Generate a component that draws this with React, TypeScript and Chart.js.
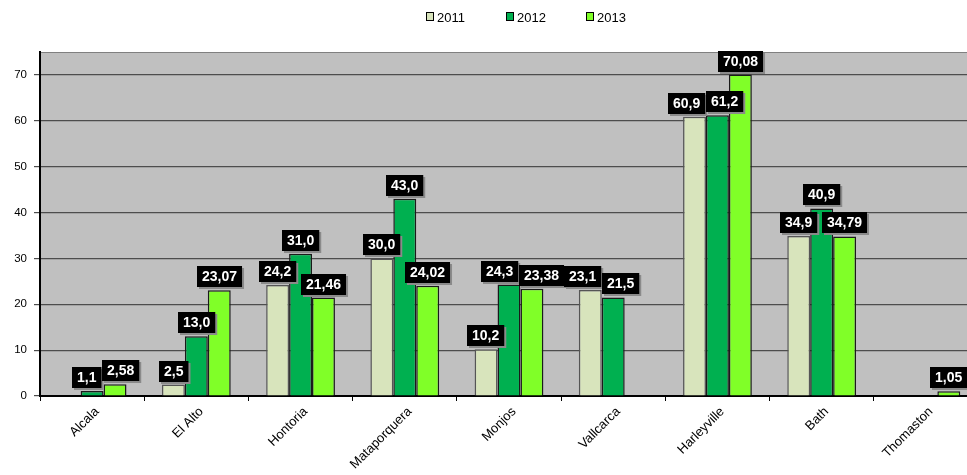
import React, { useEffect, useRef } from "react";
import { Chart, registerables } from "chart.js";

Chart.register(...registerables);

const categories = ["Alcala", "El Alto", "Hontoria", "Mataporquera", "Monjos", "Vallcarca", "Harleyville", "Bath", "Thomaston"];
const seriesNames = ["2011", "2012", "2013"];
const values2011 = [null, 2.5, 24.2, 30.0, 10.2, 23.1, 60.9, 34.9, null];
const values2012 = [1.1, 13.0, 31.0, 43.0, 24.3, 21.5, 61.2, 40.9, null];
const values2013 = [2.58, 23.07, 21.46, 24.02, 23.38, null, 70.08, 34.79, 1.05];
const decimals = [1, 1, 2];
const colors = ["#d8e4bc", "#00b050", "#80ff28"];
const borders = ["#555555", "#1a1a1a", "#1a1a1a"];
const yTicks = [0, 10, 20, 30, 40, 50, 60, 70];

const fmt = (v: number, d: number) => v.toFixed(d).replace(".", ",");

const plotBg = {
  id: "plotBg",
  beforeDraw(chart: any) {
    const { ctx, chartArea: a } = chart;
    ctx.save();
    ctx.fillStyle = "#c0c0c0";
    ctx.fillRect(a.left, a.top, a.right - a.left, a.bottom - a.top);
    ctx.strokeStyle = "#808080";
    ctx.lineWidth = 1;
    ctx.beginPath();
    ctx.moveTo(a.left, a.top + 0.5);
    ctx.lineTo(a.right, a.top + 0.5);
    ctx.stroke();
    ctx.restore();
  },
};

const dataLabels = {
  id: "dataLabels",
  afterDatasetsDraw(chart: any) {
    const { ctx } = chart;
    ctx.save();
    ctx.font = "bold 14px 'Liberation Sans', Arial, sans-serif";
    ctx.textAlign = "center";
    ctx.textBaseline = "middle";
    const h = 21;
    const n = chart.data.labels.length;
    for (let i = 0; i < n; i++) {
      const boxes: any[] = [];
      chart.data.datasets.forEach((ds: any, di: number) => {
        const v = ds.data[i];
        if (v === null || v === undefined) return;
        const el = chart.getDatasetMeta(di).data[i];
        const txt = fmt(v, decimals[di]);
        const w = ctx.measureText(txt).width + 10;
        boxes.push({ txt, w, cx: el.x, y: el.y - 3 - h });
      });
      for (let pass = 0; pass < 4; pass++) {
        for (let k = 0; k < boxes.length - 1; k++) {
          const a = boxes[k];
          const b = boxes[k + 1];
          const vOverlap = Math.abs(a.y - b.y) < h;
          const ov = a.cx + a.w / 2 - (b.cx - b.w / 2) + 1;
          if (vOverlap && ov > 0) {
            a.cx -= ov / 2;
            b.cx += ov / 2;
          }
        }
      }
      boxes.forEach((b) => {
        const x = Math.round(b.cx - b.w / 2);
        const y = Math.round(b.y);
        ctx.fillStyle = "#8a8a8a";
        ctx.fillRect(x + 2, y + 2, b.w, h);
        ctx.fillStyle = "#000000";
        ctx.fillRect(x, y, b.w, h);
        ctx.fillStyle = "#ffffff";
        ctx.fillText(b.txt, x + b.w / 2, y + h / 2 + 1);
      });
    }
    ctx.restore();
  },
};

const legendPlugin = {
  id: "customLegend",
  afterDraw(chart: any) {
    const { ctx } = chart;
    ctx.save();
    ctx.font = "13px 'Liberation Sans', Arial, sans-serif";
    ctx.textBaseline = "middle";
    ctx.textAlign = "left";
    const startX = 426;
    const step = 80;
    const cy = 17;
    seriesNames.forEach((name, i) => {
      const x = startX + i * step;
      ctx.fillStyle = colors[i];
      ctx.fillRect(x, cy - 5, 8, 9);
      ctx.strokeStyle = "#000";
      ctx.lineWidth = 1;
      ctx.strokeRect(x + 0.5, cy - 4.5, 7, 8);
      ctx.fillStyle = "#000";
      ctx.fillText(name, x + 11, cy + 1);
    });
    ctx.restore();
  },
};

export default function App() {
  const ref = useRef<HTMLCanvasElement>(null);
  useEffect(() => {
    document.body.style.margin = "0";
    const series = [values2011, values2012, values2013];
    const chart = new Chart(ref.current as HTMLCanvasElement, {
      type: "bar",
      data: {
        labels: categories,
        datasets: series.map((d, i) => ({
          label: seriesNames[i],
          data: d,
          backgroundColor: colors[i],
          borderColor: borders[i],
          borderWidth: 1.5,
          categoryPercentage: 0.66,
          barPercentage: 1,
        })),
      },
      options: {
        animation: false,
        responsive: false,
        layout: { padding: { top: 52, right: 0, left: 0, bottom: 0 } },
        plugins: { legend: { display: false }, tooltip: { enabled: false } },
        scales: {
          x: {
            offset: true,
            grid: { display: true, drawOnChartArea: false, offset: true, color: "#000", tickLength: 5 },
            border: { color: "#000", width: 2 },
            ticks: {
              color: "#000",
              font: { family: "'Liberation Sans', Arial, sans-serif", size: 13 },
              minRotation: 45,
              maxRotation: 45,
              autoSkip: false,
              labelOffset: 5,
            },
            afterFit(scale: any) {
              scale.height = 79;
            },
          },
          y: {
            min: 0,
            max: 75,
            afterBuildTicks(scale: any) {
              scale.ticks = yTicks.map((v) => ({ value: v }));
            },
            grid: { color: "#4d4d4d", lineWidth: 1.2, tickLength: 6 },
            border: { color: "#000", width: 2 },
            ticks: {
              color: "#000",
              font: { family: "'Liberation Sans', Arial, sans-serif", size: 11.5 },
              padding: 7,
            },
            afterFit(scale: any) {
              scale.width = 40;
            },
          },
        },
      },
      plugins: [plotBg, dataLabels, legendPlugin],
    } as any);
    return () => chart.destroy();
  }, []);
  return (
    <div style={{ width: 967, height: 475, overflow: "hidden" }}>
      <canvas ref={ref} width={978} height={475} style={{ display: "block" }} />
    </div>
  );
}
